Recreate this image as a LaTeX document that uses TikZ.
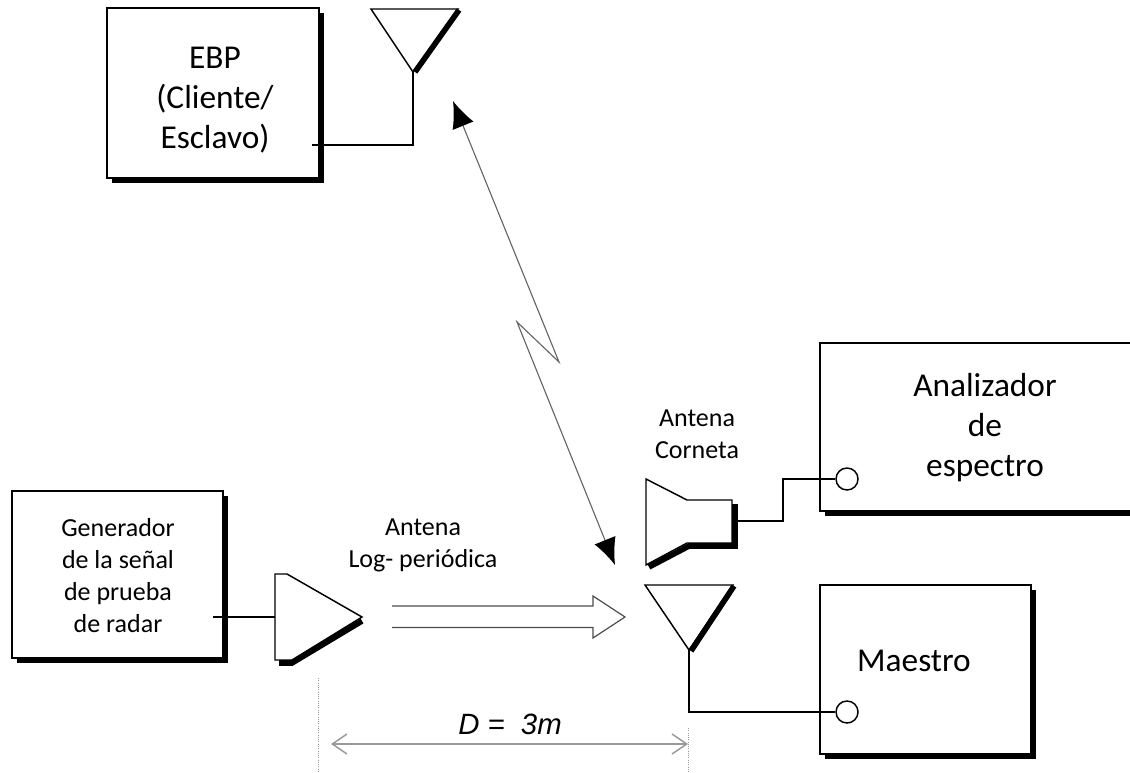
\documentclass[tikz,border=0pt]{standalone}
\usepackage{fontspec}
\setmainfont{Carlito}
\newfontfamily\dimfont{Liberation Sans}
\usetikzlibrary{arrows.meta,shadows}

\tikzset{
  blockbox/.style={draw,fill=white,line width=1.3pt,inner sep=0pt,
    drop shadow={opacity=1,fill=black,shadow xshift=3.8pt,shadow yshift=-3.8pt}},
  bigtext/.style={align=center,font=\fontsize{25}{30}\selectfont},
  smalltext/.style={align=center,font=\fontsize{19.5}{24}\selectfont},
  portcircle/.style={draw,circle,fill=white,line width=1.1pt,inner sep=0pt,minimum size=16.5pt},
  wire/.style={line width=1.1pt},
  aerial/.style={line width=1.1pt,line join=miter},
  aerialedge/.style={line width=4.2pt},
  radiolink/.style={draw=black!60,line width=0.85pt,{Latex[length=20pt,width=17pt,color=black]}-{Latex[length=20pt,width=17pt,color=black]}},
  beam/.style={draw=black!70,line width=0.9pt},
  dimline/.style={draw=black!40,line width=1.1pt,{Straight Barb[length=11pt,width=15pt]}-{Straight Barb[length=11pt,width=15pt]}},
  dimtick/.style={draw=black!40,line width=0.7pt,densely dotted}
}

\begin{document}
\begin{tikzpicture}[x=0.75pt,y=-0.75pt]
  \useasboundingbox (0,0) rectangle (1130,773);

  \node[blockbox,minimum width=158.5pt,minimum height=127pt] (ebp) at (213,93) {};
  \node[blockbox,minimum width=158pt,minimum height=125.5pt] (generador) at (117.5,574.5) {};
  \node[blockbox,minimum width=240pt,minimum height=126.5pt] (analizador) at (980,427) {};
  \node[blockbox,minimum width=158.5pt,minimum height=127pt] (maestro) at (925.5,669.5) {};

  \node[bigtext] (ebptext) at (215,100) {EBP\\(Cliente/\\Esclavo)};
  \node[smalltext] (generadortext) at (118,576) {Generador\\de la señal\\de prueba\\de radar};
  \node[bigtext] (analizadortext) at (985,428) {Analizador\\de\\espectro};
  \node[bigtext] (maestrotext) at (914,661) {Maestro};

  \node[portcircle] (portanalizador) at (847,479) {};
  \node[portcircle] (portmaestro) at (847,712) {};

  \node[smalltext] (logtext) at (423,545) {Antena\\Log- periódica};
  \node[smalltext] (horntext) at (697,434) {Antena\\Corneta};
  \node[font=\dimfont\itshape\fontsize{22}{26}\selectfont] (dimtext) at (510,724) {D =\ \ 3m};

  \coordinate (ebpout) at (312,145);
  \coordinate (topapex) at (413,72);
  \coordinate (lowapex) at (689,650);
  \coordinate (logback) at (275,617);
  \coordinate (genout) at (213,617);
  \coordinate (hornout) at (733,521);
  \coordinate (linktop) at (453,101);
  \coordinate (linkbottom) at (615,565);
  \coordinate (zigright) at (559,362);
  \coordinate (zigleft) at (517,322);
  \coordinate (dimleft) at (331,744);
  \coordinate (dimright) at (688,744);

  % antennas
  \draw[aerial] (371,9) -- (458,9) -- (topapex) -- cycle;
  \draw[aerialedge] (459,10) -- (415,72);
  \draw[aerial] (645,585) -- (733,585) -- (lowapex) -- cycle;
  \draw[aerialedge] (734,586) -- (691,651);
  \draw[aerial] (275,574) -- (287,574) -- (362,617) -- (292,660) -- (275,660) -- cycle;
  \draw[aerialedge] (279,663) -- (292,663) -- (362,621);
  \draw[aerial] (646,479) -- (687,500) -- (732,500) -- (732,543) -- (687,543) -- (646,565) -- cycle;
  \draw[aerialedge] (649,567) -- (689,546) -- (735,546) -- (735,504);

  % wires
  \draw[wire] (ebpout) -| (topapex);
  \draw[wire] (genout) -- (logback);
  \draw[wire] (hornout) -- (783,521) -- (783,479) -- (portanalizador.west);
  \draw[wire] (lowapex) |- (portmaestro.west);

  % radio link and beam
  \draw[radiolink] (linktop) -- (zigright) -- (zigleft) -- (linkbottom);
  \draw[beam] (392,606) -- (593,606) -- (593,596) -- (625,617) -- (593,638) -- (593,627.5) -- (392,627.5);

  % distance
  \draw[dimtick] (318,678) -- (318,773);
  \draw[dimtick] (688,728) -- (688,773);
  \draw[dimline] (dimleft) -- (dimright);
\end{tikzpicture}
\end{document}
